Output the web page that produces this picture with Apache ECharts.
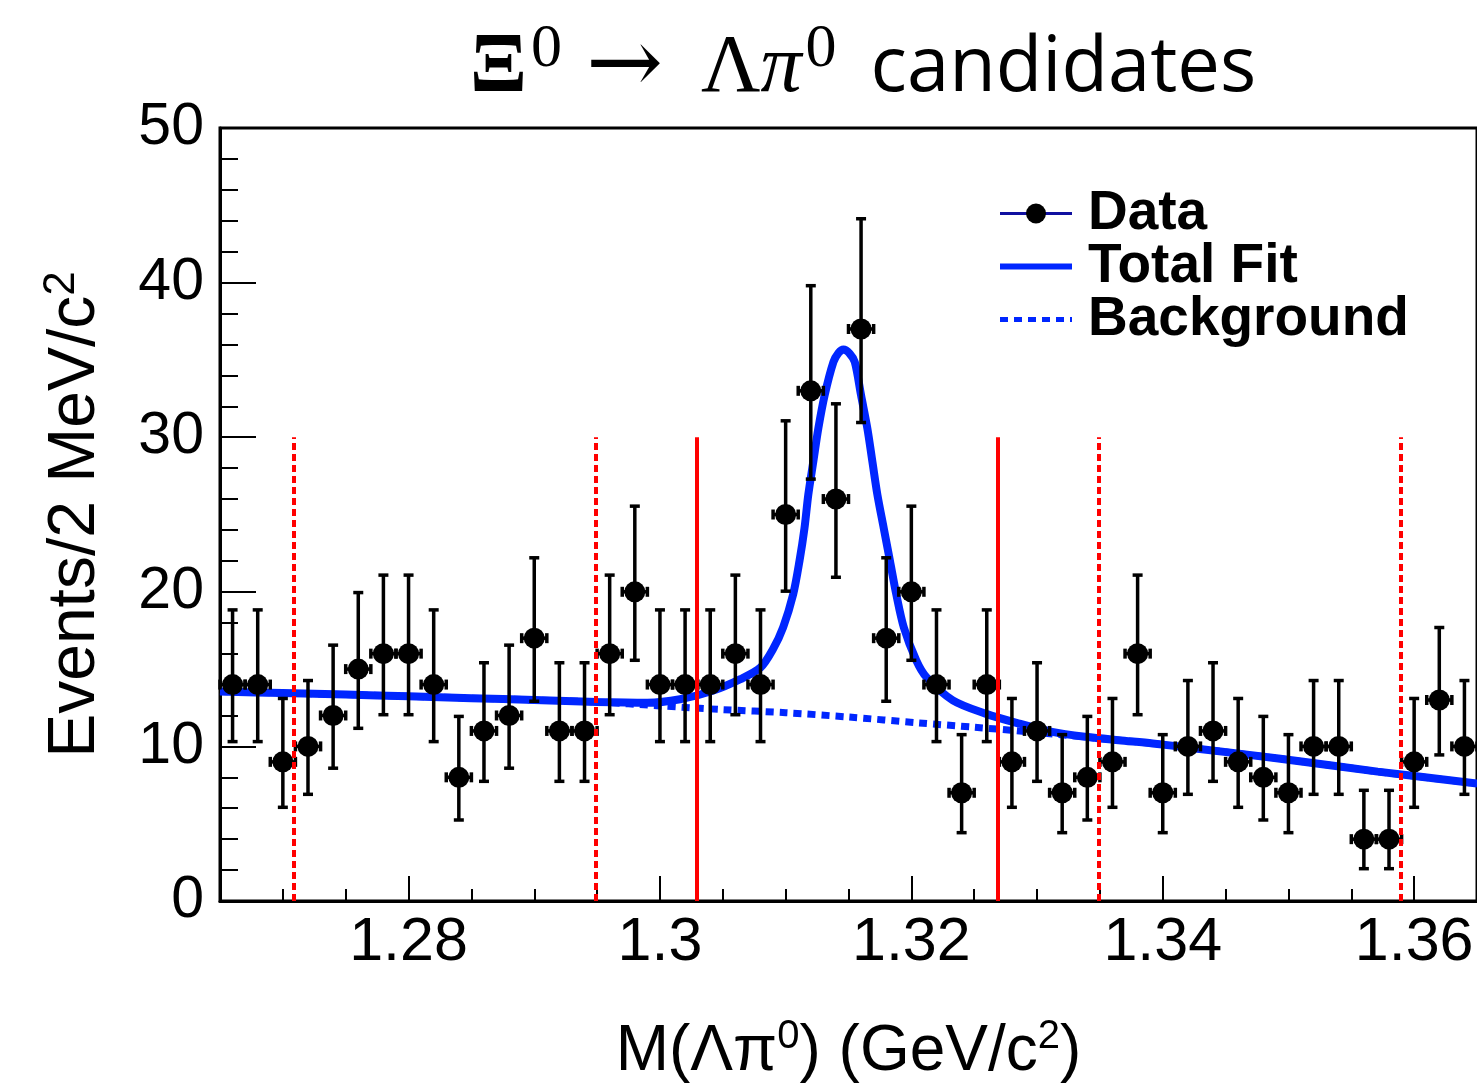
<!DOCTYPE html>
<html><head><meta charset="utf-8">
<script src="https://cdn.jsdelivr.net/npm/echarts@6/dist/echarts.min.js"></script>
<style>html,body{margin:0;padding:0;background:#fff;} #c{width:1477px;height:1089px;}</style>
</head><body><div id="c"></div>
<script>
// ---- data ----
const binCenters = [1.266,1.268,1.270,1.272,1.274,1.276,1.278,1.280,1.282,1.284,
  1.286,1.288,1.290,1.292,1.294,1.296,1.298,1.300,1.302,1.304,
  1.306,1.308,1.310,1.312,1.314,1.316,1.318,1.320,1.322,1.324,
  1.326,1.328,1.330,1.332,1.334,1.336,1.338,1.340,1.342,1.344,
  1.346,1.348,1.350,1.352,1.354,1.356,1.358,1.360,1.362,1.364];
const counts = [14,14,9,10,12,15,16,16,14,8,
  11,12,17,11,11,16,20,14,14,14,
  16,14,25,33,26,37,17,20,14,7,
  14,9,11,7,8,9,16,7,10,11,
  9,8,7,10,10,4,4,9,13,10];
const errLow = [10.31,10.31,6.06,6.90,8.59,11.17,12.05,12.05,10.31,5.24,
  7.74,8.59,12.92,7.74,7.74,12.05,15.57,10.31,10.31,10.31,
  12.05,10.31,20.04,27.29,20.94,30.95,12.92,15.57,10.31,4.42,
  10.31,6.06,7.74,4.42,5.24,6.06,12.05,4.42,6.90,7.74,
  6.06,5.24,4.42,6.90,6.90,2.09,2.09,6.06,9.45,6.90];
const errHigh = [18.83,18.83,13.10,14.26,16.55,19.95,21.08,21.08,18.83,11.94,
  15.41,16.55,22.20,15.41,15.41,21.08,25.54,18.83,18.83,18.83,
  21.08,18.83,31.06,39.80,32.16,44.13,22.20,25.54,18.83,10.76,
  18.83,13.10,15.41,10.76,11.94,13.10,21.08,10.76,14.26,15.41,
  13.10,11.94,10.76,14.26,14.26,7.16,7.16,13.10,17.69,14.26];
const binHalfWidth = 0.001;

const fitX = [1.2650,1.2700,1.2750,1.2800,1.2850,1.2900,1.2950,1.2990,1.3016,1.3042,
  1.3064,1.3080,1.3090,1.3098,1.3106,1.3111,1.3115,1.3118,1.3122,1.3126,1.3131,
  1.3138,1.3142,1.3146,1.3151,1.3155,1.3160,1.3165,1.3169,1.3173,1.3178,
  1.3183,1.3188,1.3194,1.3204,1.3212,1.3233,1.3259,1.3286,1.3312,1.3339,
  1.3365,1.3392,1.3426,1.3492,1.3571,1.3650];
const fitY = [13.55,13.45,13.35,13.24,13.12,13.00,12.87,12.82,13.05,13.60,
  14.35,15.10,16.30,17.70,19.84,21.99,24.13,26.27,28.42,30.57,32.71,
  34.86,35.45,35.67,35.40,34.86,32.71,30.57,28.42,26.27,24.13,
  21.99,19.84,17.70,15.55,14.48,12.98,12.12,11.47,10.94,10.62,
  10.40,10.19,9.87,9.22,8.37,7.60];
const bkgX = [1.2650,1.2750,1.2850,1.2950,1.3000,1.3050,1.3100,1.3150,1.3206,1.3250,
  1.3294,1.3339,1.3392,1.3426,1.3492,1.3571,1.3650];
const bkgY = [13.55,13.35,13.12,12.87,12.62,12.38,12.18,11.90,11.52,11.24,
  10.94,10.60,10.19,9.87,9.22,8.37,7.60];

const sidebandEdges = [1.2709, 1.2949, 1.3349, 1.3589];
const signalEdges = [1.3029, 1.3269];
const windowLineTop = 30;
const xTickLabels = [1.28, 1.30, 1.32, 1.34, 1.36];

// ---- chart ----
const chart = echarts.init(document.getElementById('c'), null, {renderer: 'canvas'});
const BLUE = '#0026ff';
const SANS = 'Liberation Sans, Arial, Helvetica, sans-serif';
const SERIF = 'Liberation Serif, DejaVu Serif, serif';

const zip = (xs, ys) => xs.map((x, i) => [x, ys[i]]);

const markData = [
  ...sidebandEdges.map(x => [
    {coord: [x, 0], lineStyle: {type: [7, 4], color: '#ff0000', width: 4}},
    {coord: [x, windowLineTop]}]),
  ...signalEdges.map(x => [
    {coord: [x, 0], lineStyle: {type: 'solid', color: '#ff0000', width: 4}},
    {coord: [x, windowLineTop]}])
];

const option = {
  animation: false,
  backgroundColor: '#fff',
  title: {
    text: '{xi|Ξ}{sup|0}{ar|→}{g|Λ}{gi|π}{sup|0}{s|candidates}',
    left: 470, top: 19, padding: 0,
    textStyle: {
      fontWeight: 'normal',
      rich: {
        xi: {fontFamily: SERIF, fontSize: 84, fontWeight: 'bold', lineHeight: 100, color: '#000'},
        g: {fontFamily: SERIF, fontSize: 82, fontWeight: 'normal', lineHeight: 100, color: '#000'},
        gi: {fontFamily: SERIF, fontSize: 82, fontStyle: 'italic', fontWeight: 'normal', lineHeight: 100, color: '#000'},
        ar: {fontFamily: 'DejaVu Serif, serif', fontSize: 92, fontWeight: 'normal', lineHeight: 100, color: '#000', padding: [0, 38, 0, 24]},
        sup: {fontFamily: SERIF, fontSize: 62, fontWeight: 'normal', lineHeight: 58, verticalAlign: 'top', color: '#000', padding: [0, 0, 0, 4]},
        s: {fontFamily: 'Open Sans, Noto Sans, sans-serif', fontSize: 76, fontWeight: 'normal', lineHeight: 100, color: '#000', padding: [0, 0, 0, 34]}
      }
    }
  },
  grid: {left: 220, right: -2, top: 128, bottom: 184, show: true, borderColor: '#000', borderWidth: 3, backgroundColor: 'transparent'},
  legend: {
    orient: 'vertical', left: 992, top: 181, itemWidth: 72, itemHeight: 25, itemGap: -2,
    selectedMode: false,
    textStyle: {fontSize: 55, fontWeight: 'bold', fontFamily: SANS, color: '#000', lineHeight: 54, padding: [0, 0, 0, 11]},
    data: [
      {name: 'Data', itemStyle: {color: '#000', opacity: 1}, lineStyle: {color: '#1010a0', width: 3, opacity: 1, type: 'solid'}},
      {name: 'Total Fit', itemStyle: {opacity: 0}, lineStyle: {color: BLUE, width: 6, opacity: 1, type: 'solid'}},
      {name: 'Background', itemStyle: {opacity: 0}, lineStyle: {color: BLUE, width: 5, opacity: 1, type: [8, 6]}}
    ]
  },
  xAxis: [{
    type: 'value', min: 1.265, max: 1.365, interval: 0.005,
    axisLine: {show: true, onZero: false, lineStyle: {color: '#000', width: 3}},
    axisTick: {inside: true, length: 12, lineStyle: {color: '#000', width: 2}},
    axisLabel: {customValues: xTickLabels, formatter: v => String(+(+v).toFixed(2)), fontSize: 61, color: '#000', fontFamily: SANS, margin: 12},
    splitLine: {show: false},
    name: '{t|M(}{t|Λπ}{sup|0}{t|) (GeV/c}{sup|2}{t|)}',
    nameLocation: 'middle', nameGap: 116,
    nameTextStyle: {
      rich: {
        t: {fontFamily: SANS, fontSize: 64, lineHeight: 70, color: '#000'},
        sup: {fontFamily: SANS, fontSize: 40, lineHeight: 30, verticalAlign: 'top', color: '#000'}
      }
    }
  }, {
    type: 'value', min: 1.265, max: 1.365, position: 'bottom',
    axisLine: {show: false},
    axisTick: {show: true, customValues: xTickLabels, inside: true, length: 25, lineStyle: {color: '#000', width: 2}},
    axisLabel: {show: false},
    splitLine: {show: false}
  }],
  yAxis: {
    type: 'value', min: 0, max: 50, interval: 10,
    axisLine: {show: true, lineStyle: {color: '#000', width: 3}},
    axisTick: {inside: true, length: 36, lineStyle: {color: '#000', width: 2}},
    minorTick: {show: true, splitNumber: 5, length: 18, lineStyle: {color: '#000', width: 2}},
    axisLabel: {fontSize: 59, color: '#000', fontFamily: SANS, margin: 16},
    splitLine: {show: false},
    name: '{t|Events/2 MeV/c}{sup|2}',
    nameLocation: 'middle', nameGap: 108, nameRotate: 90,
    nameTextStyle: {
      rich: {
        t: {fontFamily: SANS, fontSize: 66, lineHeight: 72, color: '#000'},
        sup: {fontFamily: SANS, fontSize: 44, lineHeight: 34, verticalAlign: 'top', color: '#000'}
      }
    }
  },
  series: [
    {
      name: 'Background', type: 'line', xAxisIndex: 0, data: zip(bkgX, bkgY),
      symbol: 'none', smooth: 0.3, z: 1, emphasis: {disabled: true},
      lineStyle: {color: BLUE, width: 7, type: [8, 6]}, itemStyle: {color: BLUE},
      markLine: {silent: true, symbol: ['none', 'none'], label: {show: false}, z: 10, animation: false, data: markData}
    },
    {
      name: 'Total Fit', type: 'line', xAxisIndex: 0, data: zip(fitX, fitY),
      symbol: 'none', smooth: 0.3, z: 2, emphasis: {disabled: true},
      lineStyle: {color: BLUE, width: 8}, itemStyle: {color: BLUE}
    },
    {
      name: 'DataErrors', type: 'custom', xAxisIndex: 0, z: 3,
      data: binCenters.map((x, i) => [x, counts[i], errLow[i], errHigh[i]]),
      encode: {x: 0, y: 1},
      renderItem: (params, api) => {
        const x = api.value(0), y = api.value(1), lo = api.value(2), hi = api.value(3);
        const c = api.coord([x, y]);
        const pl = api.coord([x, lo]);
        const ph = api.coord([x, hi]);
        const xl = api.coord([x - binHalfWidth, y]);
        const xr = api.coord([x + binHalfWidth, y]);
        const cap = 5;
        const st = {stroke: '#000', lineWidth: 3.5};
        const L = (x1, y1, x2, y2) => ({type: 'line', shape: {x1, y1, x2, y2}, style: st});
        return {type: 'group', children: [
          L(c[0], pl[1], c[0], ph[1]),
          L(c[0] - cap, ph[1], c[0] + cap, ph[1]),
          L(c[0] - cap, pl[1], c[0] + cap, pl[1]),
          L(xl[0], c[1], xr[0], c[1]),
          L(xl[0], c[1] - cap, xl[0], c[1] + cap),
          L(xr[0], c[1] - cap, xr[0], c[1] + cap)
        ]};
      }
    },
    {
      name: 'Data', type: 'line', xAxisIndex: 0, z: 4,
      data: zip(binCenters, counts),
      symbol: 'circle', symbolSize: 21, showSymbol: true, emphasis: {disabled: true},
      itemStyle: {color: '#000'},
      lineStyle: {color: '#1010a0', width: 3, opacity: 0}
    }
  ]
};
chart.setOption(option);
</script>
</body></html>
